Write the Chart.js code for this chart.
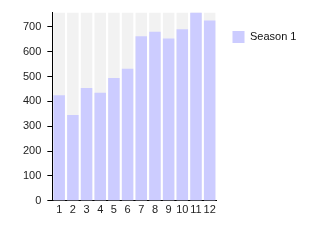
<!DOCTYPE html>
<html>
<head>
<meta charset="utf-8">
<script src="https://cdn.jsdelivr.net/npm/chart.js@4"></script>
<style>
  html, body { margin: 0; padding: 0; background: #fff; }
</style>
</head>
<body>
<canvas id="chart" width="315" height="250"></canvas>
<script>
var categories = ['1', '2', '3', '4', '5', '6', '7', '8', '9', '10', '11', '12'];
var season1 = [425, 345, 454, 435, 494, 531, 662, 680, 653, 690, 757, 725];
var yMax = 757;
var yTicks = [0, 100, 200, 300, 400, 500, 600, 700];

// grey column behind every bar, full height
var backdrop = [];
for (var i = 0; i < categories.length; i++) {
    backdrop.push(yMax);
}

Chart.defaults.font.family = "'Liberation Sans', Arial, sans-serif";
Chart.defaults.font.size = 11;
Chart.defaults.color = '#222';

// make the legend column wider so the plot stops where the original does
var widerLegend = {
    id: 'widerLegend',
    beforeLayout: function(chart) {
        var lg = chart.legend;
        if (lg && !lg._wider) {
            var fit = lg.fit;
            lg.fit = function() {
                fit.call(this);
                this.width += 24;
            };
            lg._wider = true;
        }
    }
};

var ctx = document.getElementById('chart').getContext('2d');

var myBarChart = new Chart(ctx, {
    type: 'bar',
    data: {
        labels: categories,
        datasets: [
            {
                label: 'Season 1',
                data: season1,
                backgroundColor: '#ccccff',
                borderWidth: 0,
                grouped: false,
                categoryPercentage: 1,
                barPercentage: 0.84
            },
            {
                label: 'bg',
                data: backdrop,
                backgroundColor: '#f2f2f2',
                borderWidth: 0,
                grouped: false,
                categoryPercentage: 1,
                barPercentage: 0.84
            }
        ]
    },
    plugins: [widerLegend],
    options: {
        responsive: false,
        animation: false,
        layout: {
            padding: { left: 17, right: 0, top: 9, bottom: 30 }
        },
        plugins: {
            tooltip: { enabled: false },
            legend: {
                position: 'right',
                align: 'start',
                title: { display: true, text: '', padding: 0, font: { size: 5 } },
                labels: {
                    boxWidth: 12,
                    boxHeight: 12,
                    padding: 16,
                    color: '#111',
                    filter: function(item) { return item.text === 'Season 1'; }
                }
            }
        },
        scales: {
            x: {
                grid: { display: false, drawTicks: false },
                border: { display: true, color: '#000', width: 1 },
                ticks: { padding: 3, maxRotation: 0, autoSkip: false }
            },
            y: {
                min: 0,
                max: yMax,
                afterBuildTicks: function(axis) {
                    axis.ticks = yTicks.map(function(v) { return { value: v }; });
                },
                grid: {
                    drawOnChartArea: false,
                    drawTicks: true,
                    tickLength: 5,
                    color: '#000'
                },
                border: { display: true, color: '#000', width: 1 },
                ticks: { padding: 6 }
            }
        }
    }
});
</script>
</body>
</html>
